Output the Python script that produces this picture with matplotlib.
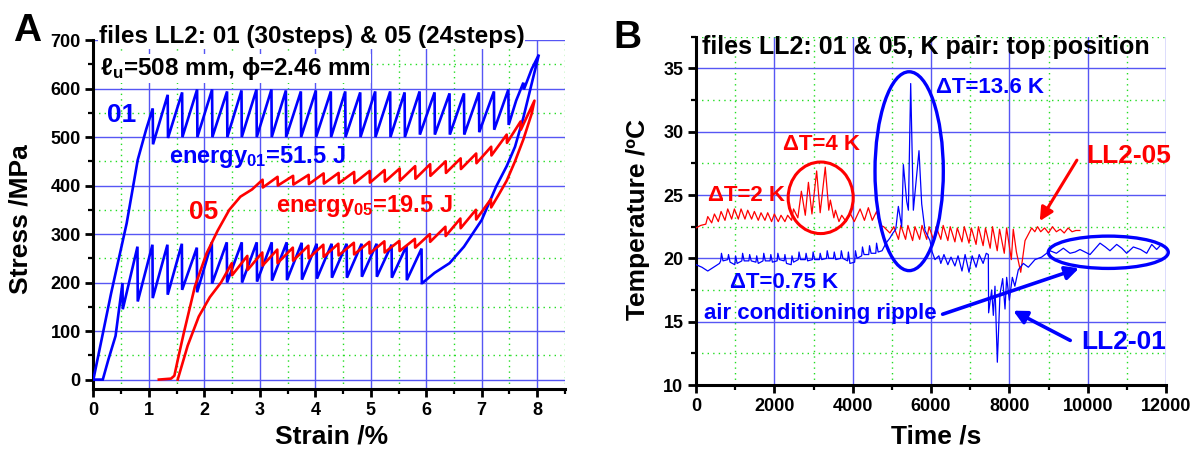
import matplotlib
matplotlib.use('Agg')
import matplotlib.pyplot as plt
from matplotlib.patches import Ellipse
from matplotlib.ticker import MultipleLocator

# ---------------- Panel A data (strain %, stress MPa) ----------------
a01_load_strain = [0.0, 0.32, 0.60, 0.80, 0.95]
a01_load_stress = [0, 178, 322, 453, 515]
a01_up_strain = [1.07, 1.34, 1.60, 1.87, 2.14, 2.41, 2.67, 2.94, 3.21, 3.47, 3.74, 4.01, 4.28,
                 4.54, 4.81, 5.08, 5.35, 5.61, 5.88, 6.15, 6.42, 6.68, 6.95, 7.22, 7.48]
a01_up_peak = [559, 587, 592, 598, 598, 594, 596, 598, 598, 596, 594, 596, 594,
               594, 592, 594, 594, 592, 594, 592, 590, 590, 592, 594, 598]
a01_up_trough = [485, 498, 500, 500, 500, 500, 500, 500, 500, 500, 500, 500, 500,
                 500, 500, 500, 500, 500, 505, 505, 505, 505, 510, 515, 525]
a01_top_strain = [7.62, 7.75, 7.76, 7.90, 8.03]
a01_top_stress = [575, 612, 598, 640, 670]
a01_unl_strain = [7.90, 7.75, 7.60, 7.45, 7.26, 7.00, 6.68, 6.42, 6.15, 5.93]
a01_unl_stress = [610, 540, 480, 440, 398, 329, 274, 240, 220, 199]
a01_low_strain = [5.92, 5.65, 5.38, 5.11, 4.84, 4.57, 4.30, 4.03, 3.76, 3.49, 3.22,
                  2.95, 2.68, 2.41, 2.14, 1.87, 1.60, 1.34, 1.07, 0.80, 0.53]
a01_low_peak = [270, 276, 278, 280, 280, 280, 280, 280, 282, 283, 283,
                283, 283, 283, 283, 272, 280, 278, 278, 274, 199]
a01_low_trough = [199, 205, 210, 212, 212, 210, 210, 208, 206, 205, 204,
                  202, 200, 200, 198, 180, 185, 175, 168, 161, 145]
a01_end_strain = [0.40, 0.27, 0.17, 0.0]
a01_end_stress = [90, 41, 0, 0]

a05_load_strain = [1.18, 1.40, 1.46, 1.52, 1.63, 1.83, 2.04, 2.24, 2.45, 2.65, 2.86]
a05_load_stress = [0, 2, 8, 40, 96, 192, 260, 307, 350, 377, 392]
a05_up_strain = [3.05, 3.32, 3.60, 3.88, 4.15, 4.42, 4.70, 4.98, 5.25, 5.52, 5.80,
                 6.07, 6.35, 6.62, 6.90, 7.17, 7.45, 7.70]
a05_up_peak = [412, 418, 420, 422, 425, 426, 428, 430, 432, 435, 440,
               444, 450, 456, 466, 480, 505, 532]
a05_up_trough = [396, 400, 402, 403, 404, 405, 405, 406, 408, 410, 414,
                 420, 426, 434, 446, 462, 488, 515]
a05_top_strain = [7.95]
a05_top_stress = [575]
a05_unl_strain = [7.90, 7.75, 7.60, 7.45, 7.30]
a05_unl_stress = [548, 495, 450, 410, 380]
a05_low_strain = [7.17, 6.90, 6.62, 6.35, 6.07, 5.80, 5.52, 5.25, 4.98, 4.70, 4.42,
                  4.15, 3.88, 3.60, 3.32, 3.05, 2.78, 2.50]
a05_low_peak = [372, 350, 332, 315, 300, 290, 286, 285, 284, 282, 280,
                278, 276, 272, 268, 262, 255, 240]
a05_low_trough = [355, 330, 312, 296, 284, 272, 265, 262, 260, 258, 256,
                  253, 250, 245, 240, 235, 226, 215]
a05_end_strain = [2.30, 2.10, 1.90, 1.70, 1.52]
a05_end_stress = [200, 170, 130, 70, 0]

# ---------------- Panel B data (time s, temperature degC) ----------------
b05_t = [0, 120, 250, 300, 400, 470, 570, 640, 740, 810, 910, 980, 1080, 1150, 1250, 1320,
         1420, 1490, 1590, 1660, 1760, 1830, 1930, 2000, 2100, 2170, 2270, 2340, 2440, 2490,
         2600, 2690, 2790, 2870, 2960, 3080, 3170, 3300, 3390, 3430, 3520, 3560, 3650, 3720,
         3830, 3930, 4040, 4190, 4300, 4400, 4500, 4610, 4700, 4790, 4950, 5050, 5170, 5230,
         5350, 5410, 5530, 5590, 5710, 5770, 5890, 5950, 6070, 6130, 6250, 6310, 6430, 6490,
         6610, 6670, 6790, 6850, 6970, 7030, 7150, 7210, 7330, 7390, 7510, 7570, 7690, 7750,
         7870, 7930, 8050, 8100, 8180, 8290, 8400, 8570, 8650, 8720, 8800, 8900, 9000, 9100,
         9200, 9300, 9400, 9500, 9600, 9700, 9800]
b05_T = [22.4, 22.6, 22.7, 23.3, 22.8, 23.5, 22.9, 23.7, 23.0, 23.9, 23.1, 23.9, 23.1, 23.9,
         23.1, 23.8, 23.1, 23.7, 23.0, 23.6, 23.0, 23.6, 22.9, 23.5, 22.9, 23.4, 22.9, 23.4,
         23.0, 23.9, 23.2, 25.3, 23.4, 26.0, 23.5, 26.9, 23.6, 27.2, 23.8, 24.6, 23.2, 23.8,
         22.9, 23.4, 22.9, 23.6, 22.9, 23.9, 23.0, 24.0, 23.0, 23.7, 22.6, 22.5, 22.0, 22.5,
         21.5, 22.6, 21.5, 22.6, 21.4, 22.5, 21.5, 22.6, 21.5, 22.5, 21.4, 22.5, 21.5, 22.6,
         21.4, 22.5, 21.3, 22.4, 21.3, 22.5, 21.2, 22.4, 21.1, 22.5, 21.0, 22.4, 20.8, 22.5,
         20.6, 22.3, 20.4, 22.4, 19.9, 22.3, 20.5, 18.9, 21.4, 22.4, 22.1, 22.5, 22.1, 22.4,
         22.0, 22.5, 22.1, 22.3, 22.0, 22.4, 22.1, 22.2, 22.2]
b01_t = [0, 150, 300, 450, 600,
         630, 650, 690, 810, 830, 870, 990, 1010, 1050, 1170, 1190, 1230,
         1350, 1370, 1410, 1530, 1550, 1590, 1710, 1730, 1770, 1890, 1910, 1950,
         2070, 2090, 2130, 2250, 2270, 2310, 2430, 2450, 2490, 2610, 2630, 2670,
         2790, 2810, 2850, 2970, 2990, 3030, 3150, 3170, 3210, 3330, 3350, 3390,
         3510, 3530, 3570, 3690, 3710, 3750, 3870, 3890, 3930, 4050, 4070, 4110,
         4230, 4250, 4290, 4410, 4430, 4470, 4590, 4610, 4650,
         4750, 4850, 4950, 5021, 5100, 5166, 5251, 5294, 5379, 5422, 5481, 5549, 5693,
         5762, 5846, 5974, 6030, 6101, 6200, 6250, 6330, 6430, 6510, 6610, 6690, 6790,
         6870, 6970, 7050, 7150, 7230, 7330, 7410, 7463, 7470, 7548, 7591, 7633, 7693,
         7761, 7829, 7889, 7931, 7999, 8076, 8140, 8229, 8356, 8484, 8654, 8825, 9037,
         9200, 9378, 9548, 9680, 9803, 10059, 10200, 10314, 10450, 10569, 10740, 10870,
         10995, 11165, 11350, 11506, 11634, 11760, 11850]
b01_T = [19.5, 19.3, 19.0, 19.3, 19.6,
         19.8, 20.4, 19.8, 19.9, 20.3, 19.7, 19.5, 20.2, 19.6, 19.8, 20.4, 19.8,
         19.8, 20.3, 19.8, 19.7, 20.2, 19.6, 19.8, 20.4, 19.8, 19.8, 20.3, 19.7,
         19.8, 20.4, 19.9, 19.8, 20.3, 19.6, 19.5, 20.2, 19.7, 19.9, 20.5, 19.9,
         19.9, 20.4, 19.8, 19.9, 20.5, 19.9, 19.9, 20.4, 19.9, 20.0, 20.6, 20.0,
         20.0, 20.5, 19.9, 20.0, 20.6, 20.0, 19.8, 20.5, 19.6, 19.7, 20.6, 20.0,
         20.2, 20.9, 20.3, 20.3, 21.0, 20.4, 20.4, 21.2, 20.5,
         20.6, 21.2, 21.6, 21.97, 22.3, 24.1, 22.5, 27.4, 24.5, 23.8, 33.8, 23.8, 28.5,
         24.3, 22.2, 21.4, 20.5, 19.9, 20.2, 19.6, 20.3, 19.5, 20.1, 19.4, 20.2, 19.0,
         20.3, 18.9, 20.2, 19.3, 20.3, 19.6, 20.4, 20.3, 15.7, 17.5, 15.5, 17.8, 11.8,
         17.2, 18.4, 16.0, 18.5, 16.7, 18.5, 17.8, 19.1, 19.6, 19.3, 19.9, 20.1, 20.6,
         20.4, 20.8, 20.4, 20.5, 20.7, 20.3, 20.8, 21.2, 20.9, 20.6, 21.1, 20.8,
         20.4, 20.9, 20.7, 20.4, 21.1, 20.7, 21.0]
assert len(b05_t) == len(b05_T) and len(b01_t) == len(b01_T)

BLUE = '#0000ff'
RED = '#ff0000'
GRID_MAJOR = '#5656f4'
GRID_MINOR = '#22dd22'

plt.rcParams['font.family'] = ['Liberation Sans', 'DejaVu Sans']
plt.rcParams['font.weight'] = 'bold'
plt.rcParams['mathtext.default'] = 'regular'


def path_up(xs, peaks, troughs):
    px, py = [], []
    for x, p, t in zip(xs, peaks, troughs):
        px += [x, x + 0.005]
        py += [p, t]
    return px, py


def path_low(xs, peaks, troughs):
    px, py = [], []
    for x, p, t in zip(xs, peaks, troughs):
        px += [x, x - 0.005]
        py += [t, p]
    return px, py


def style_axes(ax):
    for s in ['top', 'right']:
        ax.spines[s].set_visible(False)
    for s in ['left', 'bottom']:
        ax.spines[s].set_linewidth(2.2)
    ax.tick_params(which='major', direction='out', length=6, width=2, labelsize=13, pad=3)
    ax.tick_params(which='minor', direction='out', length=3.5, width=1.6)
    ax.grid(which='major', color=GRID_MAJOR, lw=1.0, ls='-')
    ax.grid(which='minor', color=GRID_MINOR, lw=1.0, ls=(0, (1, 3)))
    ax.set_axisbelow(True)
    for lab in ax.get_xticklabels() + ax.get_yticklabels():
        lab.set_fontweight('bold')


fig = plt.figure(figsize=(12, 4.5), dpi=100)
axA = fig.add_axes([0.0778, 0.1349, 0.393, 0.7762])
axB = fig.add_axes([0.58, 0.1444, 0.3917, 0.7741])

# ---------------- Panel A ----------------
ux, uy = path_up(a01_up_strain, a01_up_peak, a01_up_trough)
lx, ly = path_low(a01_low_strain, a01_low_peak, a01_low_trough)
x01 = a01_load_strain + ux + a01_top_strain + a01_unl_strain + lx + a01_end_strain
y01 = a01_load_stress + uy + a01_top_stress + a01_unl_stress + ly + a01_end_stress
axA.plot(x01, y01, color=BLUE, lw=1.9, solid_joinstyle='miter', zorder=3)

ux, uy = path_up(a05_up_strain, a05_up_peak, a05_up_trough)
lx, ly = path_low(a05_low_strain, a05_low_peak, a05_low_trough)
x05 = a05_load_strain + ux + a05_top_strain + a05_unl_strain + lx + a05_end_strain
y05 = a05_load_stress + uy + a05_top_stress + a05_unl_stress + ly + a05_end_stress
axA.plot(x05, y05, color=RED, lw=1.9, zorder=4)

axA.set_xlim(0, 8.5)
axA.set_ylim(-20, 700)
axA.xaxis.set_major_locator(MultipleLocator(1))
axA.xaxis.set_minor_locator(MultipleLocator(0.5))
axA.yaxis.set_major_locator(MultipleLocator(100))
axA.yaxis.set_minor_locator(MultipleLocator(50))
style_axes(axA)

axA.text(0.51, 546, '01', color=BLUE, fontsize=19, ha='center', va='center')
axA.text(1.36, 458, 'energy$_{01}$=51.5 J', color=BLUE, fontsize=17, ha='left', va='center')
axA.text(1.98, 346, '05', color=RED, fontsize=19, ha='center', va='center')
axA.text(3.29, 357, 'energy$_{05}$=19.5 J', color=RED, fontsize=17, ha='left', va='center')

fig.text(0.0825, 0.918, 'files LL2: 01 (30steps) & 05 (24steps)', fontsize=17.5,
         ha='left', va='center', bbox=dict(facecolor='white', edgecolor='none', pad=0.5))
fig.text(0.083, 0.848, 'ℓ$_u$=508 mm, ϕ=2.46 mm', fontsize=17.5, ha='left', va='center',
         bbox=dict(facecolor='white', edgecolor='none', pad=0.5))
fig.text(0.0175, 0.513, 'Stress /MPa', fontsize=19, rotation=90, ha='center', va='center')
fig.text(0.2764, 0.030, 'Strain /%', fontsize=19, ha='center', va='center')
fig.text(0.011, 0.971, 'A', fontsize=28, ha='left', va='top')

# ---------------- Panel B ----------------
axB.plot(b05_t, b05_T, color=RED, lw=0.9, zorder=3)
axB.plot(b01_t, b01_T, color=BLUE, lw=0.9, zorder=3)
axB.set_xlim(0, 12000)
axB.set_ylim(10, 37.5)
axB.xaxis.set_major_locator(MultipleLocator(2000))
axB.xaxis.set_minor_locator(MultipleLocator(1000))
axB.yaxis.set_major_locator(MultipleLocator(5))
axB.yaxis.set_minor_locator(MultipleLocator(2.5))
style_axes(axB)

axB.add_patch(Ellipse((3183, 24.78), 1660, 5.65, fill=False, ec=RED, lw=2.2, zorder=5))
axB.add_patch(Ellipse((5442, 26.88), 1744, 15.7, fill=False, ec=BLUE, lw=2.4, zorder=5))
axB.add_patch(Ellipse((10526, 20.48), 3063, 2.55, fill=False, ec=BLUE, lw=2.4, zorder=5,
                      clip_on=False))

axB.annotate('', xy=(8739, 22.76), xytext=(9761, 27.94),
             arrowprops=dict(arrowstyle='-|>', color=RED, lw=2.2, mutation_scale=20))
axB.annotate('', xy=(8034, 15.97), xytext=(9617, 13.42),
             arrowprops=dict(arrowstyle='-|>', color=BLUE, lw=2.6, mutation_scale=20))
axB.annotate('', xy=(9846, 19.29), xytext=(6229, 15.52),
             arrowprops=dict(arrowstyle='-|>', color=BLUE, lw=2.6, mutation_scale=20))

axB.text(6138, 33.5, 'ΔT=13.6 K', color=BLUE, fontsize=16, ha='left', va='center')
axB.text(2224, 29.0, 'ΔT=4 K', color=RED, fontsize=16, ha='left', va='center')
axB.text(317, 25.0, 'ΔT=2 K', color=RED, fontsize=16, ha='left', va='center')
axB.text(876, 18.07, 'ΔT=0.75 K', color=BLUE, fontsize=16, ha='left', va='center')
axB.text(209, 15.66, 'air conditioning ripple', color=BLUE, fontsize=16, ha='left', va='center')
axB.text(9951, 28.07, 'LL2-05', color=RED, fontsize=19, ha='left', va='center')
axB.text(9824, 13.4, 'LL2-01', color=BLUE, fontsize=19, ha='left', va='center')

fig.text(0.5846, 0.896, 'files LL2: 01 & 05, K pair: top position', fontsize=18,
         ha='left', va='center')
fig.text(0.5317, 0.513, 'Temperature /ºC', fontsize=19, rotation=90, ha='center', va='center')
fig.text(0.7804, 0.031, 'Time /s', fontsize=19, ha='center', va='center')
fig.text(0.511, 0.956, 'B', fontsize=28, ha='left', va='top')

fig.savefig('out.png', dpi=100)
